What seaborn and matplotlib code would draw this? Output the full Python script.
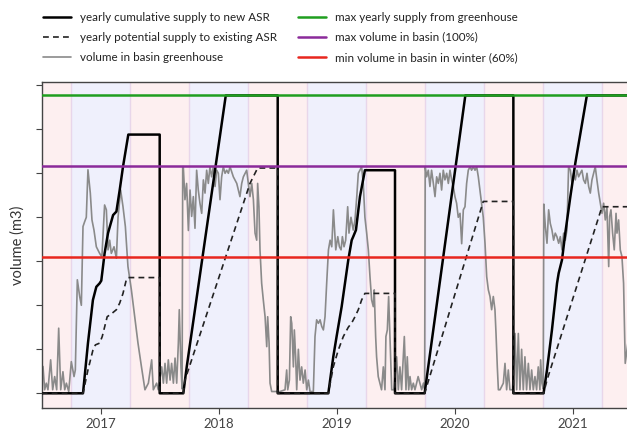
import numpy as np
import pandas as pd
import matplotlib
matplotlib.use("Agg")
import matplotlib.pyplot as plt
import seaborn as sns

# ---------------- data (decimal years, volume in tick units) ----------------
years = [2017, 2018, 2019, 2020, 2021]

supply_t = [2016.5, 2016.85, 2016.892, 2016.934, 2016.963, 2016.991, 2017.005, 2017.033,
            2017.062, 2017.105, 2017.133, 2017.161, 2017.189, 2017.234, 2017.5, 2017.5,
            2017.70, 2017.729, 2018.06, 2018.5, 2018.5,
            2018.929, 2018.971, 2018.999, 2019.042, 2019.07, 2019.098, 2019.127, 2019.14,
            2019.163, 2019.197, 2019.239, 2019.494, 2019.494,
            2019.745, 2020.09, 2020.497, 2020.497,
            2020.753, 2020.782, 2020.824, 2020.867, 2020.881, 2020.909, 2020.937, 2020.98,
            2021.022, 2021.12, 2021.5]
supply_v = [0, 0, 1.14, 2.12, 2.42, 2.5, 2.56, 3.18,
            3.64, 4.05, 4.13, 4.62, 5.15, 5.88, 5.88, 0,
            0, 0.6, 6.77, 6.77, 0,
            0, 0.83, 1.29, 1.97, 2.5, 3.03, 3.48, 3.56,
            3.71, 4.47, 5.07, 5.07, 0,
            0, 6.77, 6.77, 0,
            0, 0.53, 1.44, 2.5, 2.73, 3.03, 3.64, 4.47,
            5.23, 6.77, 6.77]

existing_t = [2016.5, 2016.85, 2016.892, 2016.934, 2016.955, 2016.991, 2017.013, 2017.055,
              2017.097, 2017.133, 2017.161, 2017.189, 2017.217, 2017.231, 2017.5, 2017.5,
              2017.70, 2017.714, 2018.265, 2018.33, 2018.5, 2018.5,
              2018.929, 2018.971, 2019.013, 2019.056, 2019.098, 2019.127, 2019.155, 2019.183,
              2019.211, 2019.239, 2019.494, 2019.494,
              2019.745, 2020.242, 2020.497, 2020.497,
              2020.753, 2020.782, 2021.248, 2021.5]
existing_v = [0, 0, 0.53, 0.98, 1.1, 1.14, 1.29, 1.74,
              1.82, 1.9, 2.05, 2.27, 2.58, 2.63, 2.63, 0,
              0, 0.3, 4.77, 5.12, 5.12, 0,
              0, 0.6, 0.98, 1.29, 1.5, 1.6, 1.74, 1.9,
              2.12, 2.27, 2.27, 0,
              0, 4.36, 4.36, 0,
              0, 0.3, 4.24, 4.24]

basin_t = [2016.49, 2016.511, 2016.525, 2016.539, 2016.553, 2016.576, 2016.593, 2016.61, 2016.627,
           2016.644, 2016.661, 2016.68, 2016.695, 2016.709, 2016.729, 2016.751, 2016.774, 2016.785,
           2016.802, 2016.822, 2016.836, 2016.85, 2016.864, 2016.878, 2016.892, 2016.912, 2016.926,
           2016.943, 2016.963, 2016.991, 2017.01, 2017.033, 2017.048, 2017.062, 2017.076, 2017.09,
           2017.113, 2017.133, 2017.147, 2017.169, 2017.189, 2017.209, 2017.231, 2017.26, 2017.288,
           2017.316, 2017.345, 2017.375, 2017.404, 2017.432, 2017.446, 2017.474, 2017.488, 2017.517,
           2017.531, 2017.545, 2017.559, 2017.573, 2017.588, 2017.601, 2017.616, 2017.63, 2017.644,
           2017.658, 2017.666, 2017.68, 2017.69, 2017.695, 2017.70, 2017.714, 2017.728, 2017.743,
           2017.757, 2017.771, 2017.785, 2017.799, 2017.813, 2017.827, 2017.841, 2017.856, 2017.87,
           2017.884, 2017.898, 2017.912, 2017.926, 2017.94, 2017.955, 2017.969, 2017.983, 2017.997,
           2018.011, 2018.025, 2018.039, 2018.054, 2018.068, 2018.082, 2018.096, 2018.124, 2018.153,
           2018.18, 2018.195, 2018.209, 2018.237, 2018.265, 2018.28, 2018.294, 2018.308, 2018.322,
           2018.33, 2018.341, 2018.35, 2018.364, 2018.378, 2018.393, 2018.407, 2018.415, 2018.427,
           2018.435, 2018.449, 2018.52, 2018.562, 2018.576, 2018.585, 2018.599, 2018.61, 2018.619,
           2018.633, 2018.641, 2018.652, 2018.661, 2018.675, 2018.689, 2018.703, 2018.717, 2018.732,
           2018.746, 2018.76, 2018.774, 2018.802, 2018.816, 2018.83, 2018.845, 2018.859, 2018.873,
           2018.887, 2018.901, 2018.915, 2018.93, 2018.944, 2018.958, 2018.972, 2018.98, 2018.992,
           2019.009, 2019.023, 2019.037, 2019.048, 2019.062, 2019.076, 2019.093, 2019.104, 2019.121,
           2019.14, 2019.155, 2019.17, 2019.183, 2019.197, 2019.211, 2019.225, 2019.239, 2019.254,
           2019.268, 2019.282, 2019.296, 2019.31, 2019.318, 2019.33, 2019.338, 2019.352, 2019.366,
           2019.38, 2019.395, 2019.409, 2019.417, 2019.429, 2019.44, 2019.451, 2019.466, 2019.485,
           2019.508, 2019.522, 2019.536, 2019.55, 2019.573, 2019.587, 2019.598, 2019.61, 2019.621,
           2019.635, 2019.649, 2019.663, 2019.677, 2019.69, 2019.72, 2019.735, 2019.745, 2019.75,
           2019.762, 2019.776, 2019.79, 2019.804, 2019.819, 2019.833, 2019.847, 2019.861, 2019.875,
           2019.889, 2019.903, 2019.917, 2019.932, 2019.946, 2019.96, 2019.974, 2019.988, 2020.002,
           2020.016, 2020.03, 2020.045, 2020.059, 2020.073, 2020.087, 2020.101, 2020.115, 2020.13,
           2020.143, 2020.158, 2020.172, 2020.186, 2020.2, 2020.214, 2020.228, 2020.242, 2020.257,
           2020.271, 2020.285, 2020.299, 2020.313, 2020.327, 2020.341, 2020.35, 2020.361, 2020.37,
           2020.384, 2020.412, 2020.426, 2020.44, 2020.454, 2020.468, 2020.49, 2020.511, 2020.525,
           2020.539, 2020.553, 2020.567, 2020.581, 2020.595, 2020.609, 2020.624, 2020.638, 2020.652,
           2020.666, 2020.68, 2020.694, 2020.708, 2020.722, 2020.728, 2020.739, 2020.75, 2020.755,
           2020.768, 2020.782, 2020.796, 2020.81, 2020.824, 2020.838, 2020.852, 2020.866, 2020.881,
           2020.895, 2020.909, 2020.923, 2020.937, 2020.951, 2020.965, 2020.98, 2020.994, 2021.008,
           2021.022, 2021.036, 2021.05, 2021.064, 2021.078, 2021.092, 2021.107, 2021.121, 2021.135,
           2021.149, 2021.163, 2021.177, 2021.191, 2021.205, 2021.22, 2021.234, 2021.248, 2021.262,
           2021.276, 2021.29, 2021.305, 2021.313, 2021.324, 2021.338, 2021.352, 2021.367, 2021.375,
           2021.389, 2021.403, 2021.417, 2021.431, 2021.445, 2021.47]
basin_v = [0.1, 0.61, 0.08, 0.23, 0.08, 0.76, 0.08, 0.38, 0.08,
           1.48, 0.08, 0.49, 0.08, 0.23, 0.04, 0.72, 0.38, 0.53,
           2.58, 2.2, 2.0, 3.79, 3.9, 4.0, 5.08, 4.55, 3.94,
           3.71, 3.33, 3.18, 3.1, 4.28, 4.17, 3.26, 3.48, 3.18,
           3.33, 3.07, 4.0, 4.62, 4.24, 3.79, 2.88, 2.35, 1.74,
           1.14, 0.61, 0.08, 0.23, 0.76, 0.08, 0.23, 0.08, 0.6,
           0.23, 0.68, 0.23, 0.76, 0.3, 0.68, 0.23, 0.8, 0.23,
           1.14, 1.9, 0.6, 0.1, 5.15, 5.15, 4.4, 4.77, 3.7,
           4.62, 4.02, 4.47, 3.75, 5.07, 4.62, 4.32, 4.09, 4.85,
           4.55, 5.07, 4.77, 5.15, 4.92, 5.15, 4.7, 5.07, 5.0,
           4.4, 4.92, 5.15, 5.0, 5.07, 5.0, 5.15, 4.92, 4.77,
           4.47, 4.77, 4.92, 5.07, 4.47, 4.77, 4.4, 3.64, 3.48,
           4.77, 4.24, 3.26, 2.5, 2.12, 1.74, 1.06, 1.74, 1.14,
           0.23, 0.04, 0.04, 0.08, 0.53, 0.08, 0.3, 1.74, 1.59,
           0.6, 1.44, 0.83, 0.08, 1.0, 0.3, 0.6, 0.23, 0.53,
           0.08, 0.3, 0.04, 0.04, 1.29, 1.67, 1.59, 1.67, 1.52,
           1.44, 1.74, 2.5, 3.26, 3.48, 3.33, 4.17, 3.79, 3.26,
           3.56, 3.33, 3.26, 3.56, 3.33, 3.48, 4.24, 3.64, 4.0,
           3.71, 3.94, 4.47, 5.0, 5.07, 5.15, 4.77, 4.0, 3.64,
           3.26, 2.65, 2.12, 1.97, 2.35, 1.29, 0.83, 0.38, 0.23,
           0.08, 0.6, 0.08, 1.29, 1.44, 2.2, 1.29, 0.08, 0.08,
           0.83, 0.08, 0.6, 0.08, 1.29, 0.08, 0.83, 0.08, 0.38,
           0.08, 0.23, 0.08, 0.23, 0.38, 0.08, 0.23, 0.1, 5.15,
           4.92, 5.07, 4.7, 5.07, 4.77, 4.47, 4.92, 4.77, 5.0,
           4.62, 5.07, 4.85, 5.0, 4.77, 5.07, 4.85, 4.7, 4.47,
           4.32, 4.0, 4.09, 3.4, 4.17, 4.24, 4.77, 5.07, 5.15,
           5.07, 5.15, 5.07, 5.15, 4.92, 4.62, 4.32, 4.0, 3.4,
           2.65, 2.35, 2.2, 1.9, 2.2, 1.9, 1.36, 0.6, 0.08,
           0.08, 0.23, 0.68, 0.08, 0.53, 0.08, 0.08, 1.36, 0.08,
           1.36, 0.08, 1.0, 0.08, 0.83, 0.08, 0.68, 0.08, 0.53,
           0.08, 0.38, 0.08, 0.6, 0.08, 0.76, 0.23, 0.1, 4.3,
           3.79, 3.41, 4.17, 3.86, 3.71, 3.48, 3.64, 3.56, 3.41,
           3.56, 3.26, 3.64, 3.48, 3.71, 5.15, 5.07, 4.77, 5.0,
           4.85, 5.07, 4.92, 5.0, 5.07, 4.85, 4.77, 5.0, 4.7,
           4.55, 4.85, 5.0, 5.15, 4.85, 4.55, 4.32, 4.09, 4.32,
           3.94, 4.24, 2.88, 4.02, 4.17, 3.64, 3.26, 4.09, 3.64,
           3.94, 3.26, 3.11, 2.5, 0.68, 1.2]

max_supply = 6.77      # max yearly supply from greenhouse
max_basin = 5.17       # max volume in basin (100%)
min_basin = 0.6 * max_basin  # min volume in basin in winter (60%)

labels = ["yearly cumulative supply to new ASR",
          "yearly potential supply to existing ASR",
          "volume in basin greenhouse",
          "max yearly supply from greenhouse",
          "max volume in basin (100%)",
          "min volume in basin in winter (60%)"]

# ---------------- plotting ----------------
sns.set_theme(style="white")
plt.rcParams['font.family'] = ['Lato', 'DejaVu Sans']

fig = plt.figure(figsize=(6.27, 4.30), dpi=100)
ax = fig.add_axes([0.0665, 0.0512, 0.9335, 0.7581])

x0, x1 = 2016.5, 2021.46
# season shading: summer (Apr-Oct) pink, winter (Oct-Apr) blue
for y in range(2016, 2022):
    ax.axvspan(y + 0.25, y + 0.75, color="#fdeff0", zorder=0, lw=0)
    ax.axvspan(y - 0.25, y + 0.25, color="#eff0fc", zorder=0, lw=0)
    for b in (y + 0.25, y + 0.75):
        ax.axvline(b, color="#e8d6ea", lw=1.0, zorder=0.5)

d_sup = pd.DataFrame({"t": supply_t, "v": supply_v})
d_ex = pd.DataFrame({"t": existing_t, "v": existing_v})
d_bas = pd.DataFrame({"t": basin_t, "v": basin_v})

sns.lineplot(data=d_sup, x="t", y="v", ax=ax, color="black", lw=1.8,
             estimator=None, sort=False, label=labels[0], zorder=3)
sns.lineplot(data=d_ex, x="t", y="v", ax=ax, color="#222222", lw=1.2,
             estimator=None, sort=False, label=labels[1], zorder=3)
ax.lines[-1].set_dashes([3.5, 2.5])
sns.lineplot(data=d_bas, x="t", y="v", ax=ax, color="#8a8a8a", lw=1.2,
             estimator=None, sort=False, label=labels[2], zorder=2.5)

ax.axhline(max_supply, color="#1f9e1f", lw=1.8, label=labels[3], zorder=4)
ax.axhline(max_basin, color="#8b2a9a", lw=1.8, label=labels[4], zorder=4)
ax.axhline(min_basin, color="#e8261e", lw=1.8, label=labels[5], zorder=4)

ax.set_xlim(x0, x1)
ax.set_ylim(-0.334, 7.075)
ax.set_xticks(years)
ax.set_xticklabels([str(y) for y in years], fontsize=9.5, color="#333333")
ax.set_yticks(range(0, 8))
ax.set_yticklabels([])
ax.set_xlabel("")
ax.set_ylabel("volume (m3)", fontsize=10.5, color="#333333", labelpad=5)
ax.tick_params(axis="both", direction="out", length=4, width=0.8, colors="#444444",
               left=True, bottom=True, pad=3)
for s in ("left", "bottom", "top"):
    ax.spines[s].set_color("#444444")
    ax.spines[s].set_linewidth(1.0)
ax.spines["right"].set_visible(False)

handles, labs = ax.get_legend_handles_labels()
ax.get_legend().remove()
fig.legend(handles, labs, loc="upper left", bbox_to_anchor=(0.0554, 0.992), ncol=2,
           frameon=False, fontsize=8.4, handlelength=2.4, handletextpad=0.77,
           columnspacing=1.8, labelspacing=0.78, borderaxespad=0.3,
           labelcolor="#222222")

fig.savefig("out.png", dpi=100)
